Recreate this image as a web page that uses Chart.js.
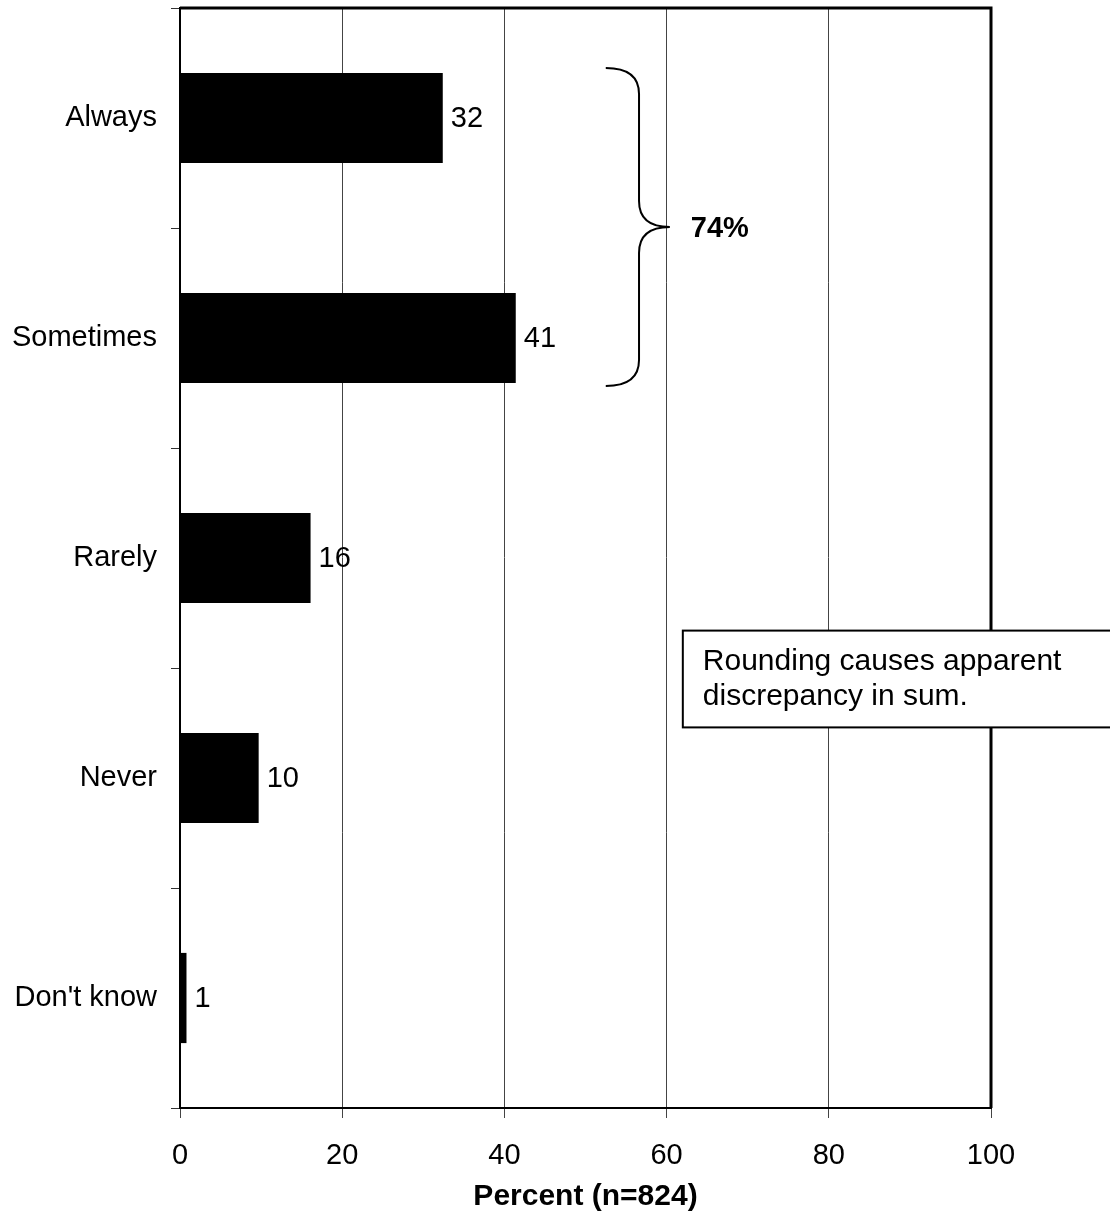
<!DOCTYPE html>
<html>
<head>
<meta charset="utf-8">
<script src="https://cdn.jsdelivr.net/npm/chart.js@4/dist/chart.umd.min.js"></script>
<style>
  html, body { margin: 0; padding: 0; background: #fff; }
  #wrap { width: 1110px; height: 1220px; }
</style>
</head>
<body>
<div id="wrap"><canvas id="myChart" width="1110" height="1220"></canvas></div>
<script>
const categories = ['Always', 'Sometimes', 'Rarely', 'Never', "Don't know"];
const percents = [32.4, 41.4, 16.1, 9.7, 0.8];
const valueLabels = ['32', '41', '16', '10', '1'];
const xTicks = [0, 20, 40, 60, 80, 100];
const bracketText = '74%';
const noteLines = ['Rounding causes apparent', 'discrepancy in sum.'];

const FONT = 'Arial, "Liberation Sans", sans-serif';

// labels at the end of each bar
const valueLabelPlugin = {
    id: 'valueLabels',
    afterDatasetsDraw(chart) {
        const ctx = chart.ctx;
        const meta = chart.getDatasetMeta(0);
        ctx.save();
        ctx.font = '29px ' + FONT;
        ctx.fillStyle = '#000';
        ctx.textAlign = 'left';
        ctx.textBaseline = 'middle';
        meta.data.forEach(function (bar, i) {
            ctx.fillText(valueLabels[i], bar.x + 8, bar.y + 1);
        });
        ctx.restore();
    }
};

// top / right frame, bracket and note box
const extrasPlugin = {
    id: 'extras',
    afterDraw(chart) {
        const ctx = chart.ctx;
        const a = chart.chartArea;
        const x = chart.scales.x;
        const y = chart.scales.y;
        ctx.save();

        ctx.strokeStyle = '#000';
        ctx.lineWidth = 3;
        ctx.beginPath();
        ctx.moveTo(a.left, a.top);
        ctx.lineTo(a.right, a.top);
        ctx.lineTo(a.right, a.bottom);
        ctx.stroke();

        // brace
        const x0 = x.getPixelForValue(52.5);
        const x1 = x.getPixelForValue(56.6);
        const x2 = x.getPixelForValue(60.4);
        const yTop = y.getPixelForValue(0) - 50;
        const yBot = y.getPixelForValue(1) + 48;
        const yMid = (yTop + yBot) / 2;
        const r = 26;
        ctx.lineWidth = 2;
        ctx.beginPath();
        ctx.moveTo(x0, yTop);
        ctx.quadraticCurveTo(x1, yTop, x1, yTop + r);
        ctx.lineTo(x1, yMid - r);
        ctx.quadraticCurveTo(x1, yMid, x2, yMid);
        ctx.quadraticCurveTo(x1, yMid, x1, yMid + r);
        ctx.lineTo(x1, yBot - r);
        ctx.quadraticCurveTo(x1, yBot, x0, yBot);
        ctx.stroke();

        ctx.font = 'bold 29px ' + FONT;
        ctx.fillStyle = '#000';
        ctx.textAlign = 'left';
        ctx.textBaseline = 'middle';
        ctx.fillText(bracketText, x2 + 21, yMid + 2);

        // note box
        const bx = x.getPixelForValue(62);
        const by = y.getPixelForValue(2.33);
        const bh = y.getPixelForValue(2.77) - by;
        ctx.fillStyle = '#fff';
        ctx.fillRect(bx, by, chart.width - bx + 10, bh);
        ctx.lineWidth = 2;
        ctx.strokeRect(bx, by, chart.width - bx + 10, bh);
        ctx.fillStyle = '#000';
        ctx.font = '30px ' + FONT;
        ctx.textBaseline = 'alphabetic';
        noteLines.forEach(function (line, i) {
            ctx.fillText(line, bx + 20, by + 39 + i * 35);
        });

        ctx.restore();
    }
};

const ctx = document.getElementById('myChart').getContext('2d');
const myChart = new Chart(ctx, {
    type: 'bar',
    data: {
        labels: categories,
        datasets: [{
            data: percents,
            backgroundColor: '#000',
            borderWidth: 0,
            barPercentage: 0.41,
            categoryPercentage: 1.0
        }]
    },
    options: {
        indexAxis: 'y',
        responsive: false,
        animation: false,
        layout: { padding: { top: 8, right: 119, left: 0, bottom: 0 } },
        plugins: {
            legend: { display: false },
            tooltip: { enabled: false }
        },
        scales: {
            x: {
                min: 0,
                max: 100,
                afterBuildTicks: function (s) {
                    s.ticks = xTicks.map(function (v) { return { value: v }; });
                },
                afterFit: function (s) {
                    s.height = 112;
                    s.paddingLeft = 0;
                    s.paddingRight = 0;
                },
                ticks: {
                    font: { family: FONT, size: 29 },
                    color: '#000',
                    padding: 21,
                    maxRotation: 0
                },
                grid: {
                    color: '#444',
                    lineWidth: 1,
                    tickLength: 10
                },
                border: { display: true, color: '#000', width: 2 },
                title: {
                    display: true,
                    text: 'Percent (n=824)',
                    font: { family: FONT, size: 30, weight: 'bold' },
                    color: '#000',
                    padding: { top: 0, bottom: 5 }
                }
            },
            y: {
                afterFit: function (s) {
                    s.width = 180;
                    s.paddingTop = 0;
                    s.paddingBottom = 0;
                },
                ticks: {
                    font: { family: FONT, size: 29 },
                    color: '#000',
                    padding: 14
                },
                grid: {
                    drawOnChartArea: false,
                    tickLength: 9,
                    tickColor: '#333',
                    offset: true
                },
                border: { display: true, color: '#000', width: 2 }
            }
        }
    },
    plugins: [valueLabelPlugin, extrasPlugin]
});
</script>
</body>
</html>
